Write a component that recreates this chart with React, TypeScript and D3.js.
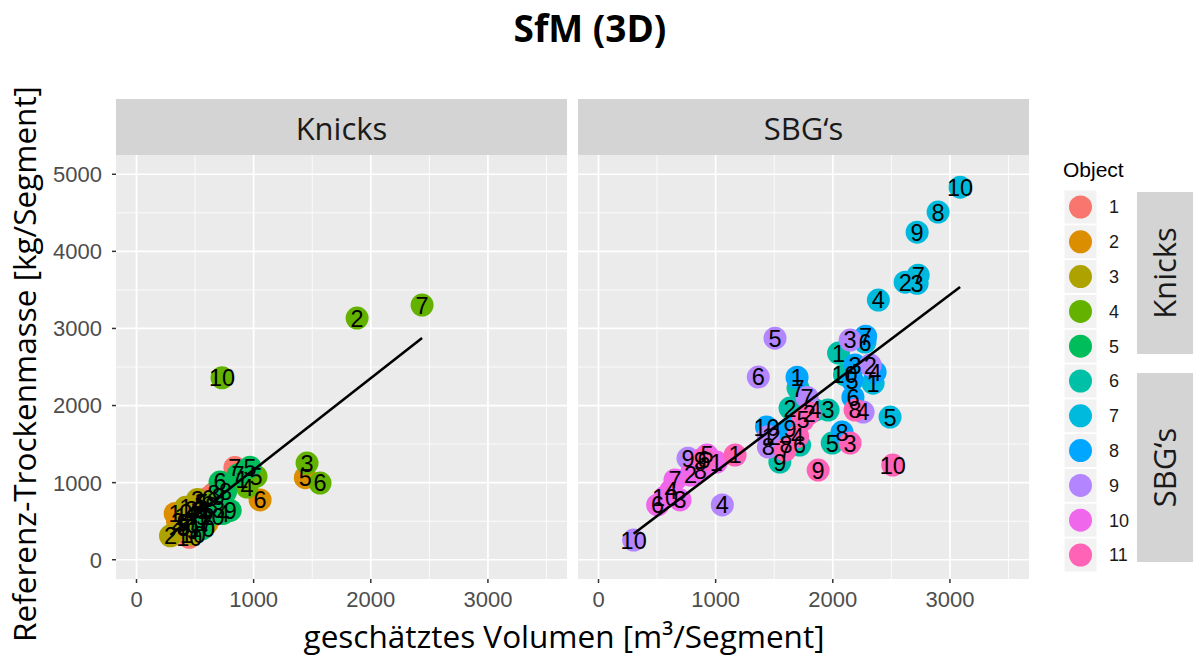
import React from "react";
import * as d3 from "d3";

// [object, label, volume m³, mass kg]
type Pt = [number, number, number, number];

const objects = ["1", "2", "3", "4", "5", "6", "7", "8", "9", "10", "11"];
const objectColors = ["#F8766D", "#DB8E00", "#AEA200", "#64B200", "#00BD5C", "#00C1A7",
  "#00BADE", "#00A6FF", "#B385FF", "#EF67EB", "#FF63B6"];

const xTicks = [0, 1000, 2000, 3000];
const yTicks = [0, 1000, 2000, 3000, 4000, 5000];
const xMinor = [500, 1500, 2500, 3500];
const yMinor = [500, 1500, 2500, 3500, 4500];

const knicksPoints: Pt[] = [
  [1, 1, 380, 560], [1, 2, 420, 610], [1, 3, 470, 650], [1, 4, 520, 700], [1, 5, 560, 740],
  [1, 6, 610, 800], [1, 7, 840, 1195], [1, 8, 660, 860], [1, 9, 400, 480], [1, 10, 450, 290],
  [2, 1, 330, 600], [2, 2, 350, 500], [2, 3, 400, 430], [2, 4, 450, 560], [2, 5, 1441, 1065],
  [2, 6, 1055, 775], [2, 7, 600, 470], [2, 8, 540, 650], [2, 9, 480, 380], [2, 10, 640, 560],
  [3, 1, 420, 680], [3, 2, 290, 310], [3, 3, 520, 780], [3, 4, 470, 600], [3, 5, 550, 730],
  [3, 6, 590, 640], [3, 7, 490, 500], [3, 8, 400, 420], [3, 9, 560, 560], [3, 10, 480, 330],
  [4, 1, 900, 1040], [4, 2, 1883, 3135], [4, 3, 1456, 1254], [4, 4, 944, 942], [4, 5, 1020, 1080],
  [4, 6, 1567, 995], [4, 7, 2438, 3303], [4, 8, 640, 700], [4, 9, 700, 820], [4, 10, 730, 2360],
  [5, 1, 560, 480], [5, 2, 610, 560], [5, 3, 700, 650], [5, 4, 740, 600], [5, 5, 969, 1200],
  [5, 6, 713, 1008], [5, 7, 867, 1101], [5, 8, 760, 880], [5, 9, 800, 640], [5, 10, 560, 400],
];

const sbgPoints: Pt[] = [
  [6, 1, 2049, 2680], [6, 2, 1635, 1967], [6, 3, 1960, 1942], [6, 4, 1849, 1942], [6, 5, 1995, 1513],
  [6, 6, 1717, 1488], [6, 7, 1703, 2226], [6, 8, 1600, 1500], [6, 9, 1548, 1267], [6, 10, 2100, 2400],
  [7, 1, 2344, 2290], [7, 2, 2618, 3600], [7, 3, 2720, 3586], [7, 4, 2389, 3369], [7, 5, 2489, 1850],
  [7, 6, 2275, 2823], [7, 7, 2729, 3691], [7, 8, 2899, 4509], [7, 9, 2720, 4249], [7, 10, 3087, 4832],
  [8, 1, 1695, 2367], [8, 2, 1500, 1600], [8, 3, 2190, 2525], [8, 4, 2361, 2433], [8, 5, 2165, 2330],
  [8, 6, 2172, 2109], [8, 7, 2280, 2900], [8, 8, 2079, 1656], [8, 9, 1635, 1708], [8, 10, 1434, 1721],
  [9, 1, 1450, 1600], [9, 2, 2320, 2525], [9, 3, 2148, 2850], [9, 4, 2259, 1916], [9, 5, 1507, 2874],
  [9, 6, 1364, 2370], [9, 7, 1781, 2105], [9, 8, 1450, 1462], [9, 9, 764, 1316], [9, 10, 300, 255],
  [9, 4, 1057, 710],
  [10, 1, 1006, 1267], [10, 2, 786, 1099], [10, 3, 696, 775], [10, 4, 620, 900], [10, 5, 926, 1358],
  [10, 6, 505, 710], [10, 7, 653, 1035], [10, 8, 869, 1163], [10, 9, 869, 1293], [10, 10, 568, 813],
  [11, 1, 1166, 1358], [11, 2, 1800, 1900], [11, 3, 2148, 1513], [11, 4, 1700, 1600], [11, 5, 1745, 1812],
  [11, 6, 900, 1300], [11, 7, 1594, 1423], [11, 8, 2190, 1942], [11, 9, 1875, 1163], [11, 10, 2512, 1228],
];

const panels = [
  { name: "Knicks", points: knicksPoints, x0: 116, x1: 567 },
  { name: "SBG‘s", points: sbgPoints, x0: 578, x1: 1029 },
];

const top = 155, bottom = 579;
const sans = "Liberation Sans, Arial, sans-serif";
const calib = "Open Sans, sans-serif";

// simple least-squares fit, drawn over the data range (like geom_smooth(method = "lm"))
function fit(points: Pt[]) {
  const mx = d3.mean(points, p => p[2])!;
  const my = d3.mean(points, p => p[3])!;
  const slope = d3.sum(points, p => (p[2] - mx) * (p[3] - my)) / d3.sum(points, p => (p[2] - mx) ** 2);
  const [lo, hi] = d3.extent(points, p => p[2]) as [number, number];
  return [[lo, my + slope * (lo - mx)], [hi, my + slope * (hi - mx)]];
}

export default function App() {
  const y = d3.scaleLinear().domain([-250, 5250]).range([bottom, top]);
  const color = d3.scaleOrdinal<number, string>().domain(d3.range(1, 12)).range(objectColors);

  return (
    <svg width={1195} height={661} style={{ display: "block", position: "absolute", left: 0, top: 0 }}>
      <rect width={1195} height={661} fill="#fff" />
      <text x={590} y={42} textAnchor="middle" fontFamily={calib} fontWeight="bold" fontSize={37} fill="#000">
        SfM (3D)
      </text>

      {panels.map(p => {
        const x = d3.scaleLinear().domain([-175, 3675]).range([p.x0, p.x1]);
        const line = d3.line<number[]>().x(d => x(d[0])).y(d => y(d[1]));
        return (
          <g key={p.name}>
            <rect x={p.x0} y={99} width={p.x1 - p.x0} height={top - 99} fill="#D4D4D4" />
            <text x={(p.x0 + p.x1) / 2} y={140} textAnchor="middle" fontFamily={calib} fontSize={31} fill="#1A1A1A">
              {p.name}
            </text>
            <rect x={p.x0} y={top} width={p.x1 - p.x0} height={bottom - top} fill="#EBEBEB" />
            {xMinor.map(v => <line key={"xm" + v} x1={x(v)} x2={x(v)} y1={top} y2={bottom} stroke="#fff" strokeWidth={0.8} />)}
            {yMinor.map(v => <line key={"ym" + v} x1={p.x0} x2={p.x1} y1={y(v)} y2={y(v)} stroke="#fff" strokeWidth={0.8} />)}
            {xTicks.map(v => <line key={"xg" + v} x1={x(v)} x2={x(v)} y1={top} y2={bottom} stroke="#fff" strokeWidth={1.7} />)}
            {yTicks.map(v => <line key={"yg" + v} x1={p.x0} x2={p.x1} y1={y(v)} y2={y(v)} stroke="#fff" strokeWidth={1.7} />)}
            {xTicks.map(v => (
              <g key={"xt" + v}>
                <line x1={x(v)} x2={x(v)} y1={bottom} y2={bottom + 4} stroke="#333" strokeWidth={1.5} />
                <text x={x(v)} y={607} textAnchor="middle" fontFamily={sans} fontSize={22} fill="#4D4D4D">{v}</text>
              </g>
            ))}
            {p.points.map((d, i) => (
              <circle key={"c" + i} cx={x(d[2])} cy={y(d[3])} r={11.5} fill={color(d[0])} />
            ))}
            {p.points.map((d, i) => (
              <text key={"t" + i} x={x(d[2])} y={y(d[3])} dy="0.36em" textAnchor="middle"
                fontFamily={sans} fontSize={23.5} fill="#000">{d[1]}</text>
            ))}
            <path d={line(fit(p.points))!} stroke="#000" strokeWidth={2.6} fill="none" />
          </g>
        );
      })}

      {yTicks.map(v => (
        <g key={"yt" + v}>
          <line x1={112} x2={116} y1={y(v)} y2={y(v)} stroke="#333" strokeWidth={1.5} />
          <text x={102} y={y(v)} dy="0.36em" textAnchor="end" fontFamily={sans} fontSize={22} fill="#4D4D4D">{v}</text>
        </g>
      ))}

      <text transform={`translate(36,${(top + bottom) / 2 - 3}) rotate(-90)`} textAnchor="middle"
        fontFamily={calib} fontSize={31.5} fill="#000">Referenz-Trockenmasse [kg/Segment]</text>
      <text x={564} y={648} textAnchor="middle" fontFamily={calib} fontSize={31.5} fill="#000">
        geschätztes Volumen [m³/Segment]
      </text>

      <text x={1063} y={177} fontFamily={sans} fontSize={21} fill="#000">Object</text>
      {objects.map((o, i) => {
        const cy = 207 + i * 34.8;
        return (
          <g key={"lg" + o}>
            <rect x={1064} y={cy - 17} width={33} height={34} fill="#F2F2F2" stroke="#fff" strokeWidth={1} />
            <circle cx={1080.5} cy={cy} r={11.5} fill={objectColors[i]} />
            <text x={1109} y={cy} dy="0.36em" fontFamily={sans} fontSize={18} fill="#1A1A1A">{o}</text>
          </g>
        );
      })}

      {[{ name: "Knicks", y0: 192, y1: 354 }, { name: "SBG‘s", y0: 373, y1: 562 }].map(s => (
        <g key={"rs" + s.name}>
          <rect x={1137} y={s.y0} width={56} height={s.y1 - s.y0} fill="#D4D4D4" />
          <text transform={`translate(1176,${(s.y0 + s.y1) / 2}) rotate(-90)`} textAnchor="middle"
            fontFamily={calib} fontSize={31} fill="#1A1A1A">{s.name}</text>
        </g>
      ))}
    </svg>
  );
}
